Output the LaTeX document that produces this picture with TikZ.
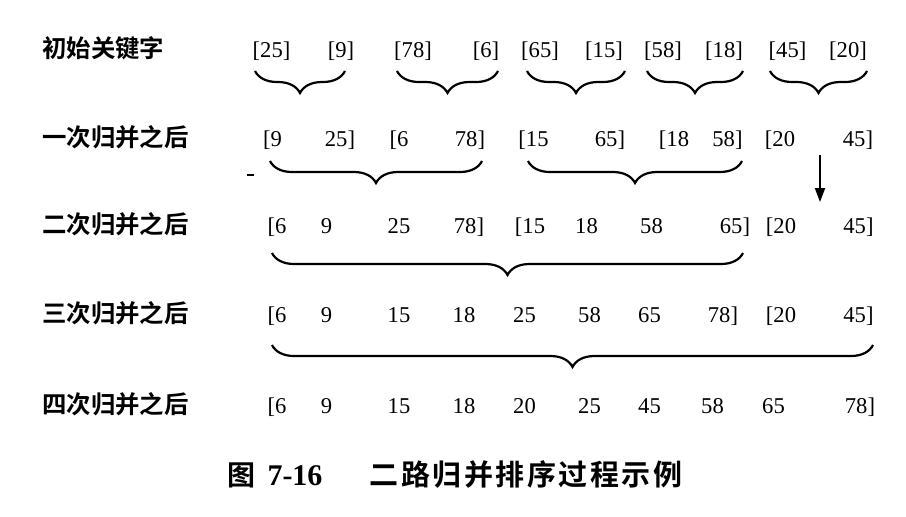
\documentclass[tikz,border=0pt]{standalone}
\usepackage{fontspec}
\setmainfont{Liberation Serif}
\newfontfamily\cjkfont{Noto Sans CJK SC}[BoldFont={Noto Sans CJK SC Bold}]
\usetikzlibrary{decorations.pathreplacing, arrows.meta}

\tikzset{
  num/.style={font=\fontsize{11.3}{13}\selectfont, inner sep=0pt, anchor=base},
  rowlabel/.style={font=\cjkfont\bfseries\fontsize{12.2}{14}\selectfont, inner sep=0pt, anchor=base west},
  mergebrace/.style={line width=1.1pt, decorate, decoration={brace, mirror, amplitude=11pt}},
}

\begin{document}
\begin{tikzpicture}[x=0.5pt, y=-0.5pt]
\useasboundingbox (0,0) rectangle (906,516);

% row labels
\foreach \y/\lbl [count=\i] in {57/初始关键字, 146/一次归并之后, 233/二次归并之后, 322/三次归并之后, 413/四次归并之后}
  \node[rowlabel] (lbl\i) at (42,\y) {\lbl};

% keys, one row per pass
\foreach \x/\k [count=\i] in {271.5/[25], 341/[9], 413/[78], 486/[6], 540/[65], 604/[15], 663/[58], 724/[18], 787.5/[45], 848/[20]}
  \node[num] (ra\i) at (\x,57) {\k};
\foreach \x/\k [count=\i] in {272.5/[9, 340/25], 399/[6, 470/78], 533.5/[15, 610/65], 674/[18, 727.5/58], 780/[20, 858/45]}
  \node[num] (rb\i) at (\x,146) {\k};
\foreach \x/\k [count=\i] in {277/[6, 326.5/9, 399/25, 469/78], 530/[15, 586.5/18, 651.5/58, 735/65], 781/[20, 858.5/45]}
  \node[num] (rc\i) at (\x,233) {\k};
\foreach \x/\k [count=\i] in {277/[6, 326.5/9, 399/15, 464/18, 524.5/25, 589.5/58, 649.5/65, 723/78], 781/[20, 858.5/45]}
  \node[num] (rd\i) at (\x,322) {\k};
\foreach \x/\k [count=\i] in {277/[6, 326.5/9, 399/15, 464/18, 524.5/20, 589.5/25, 649.5/45, 712.5/58, 773.5/65, 860/78]}
  \node[num] (re\i) at (\x,413) {\k};

% braces
\foreach \a/\b in {255/345, 397/498, 527/625, 647/743, 770/867}
  \draw[mergebrace] (\a,71) -- (\b,71);
\foreach \a/\b in {270/482, 528/742}
  \draw[mergebrace] (\a,161) -- (\b,161);
\draw[mergebrace] (272,253) -- (743,253);
\draw[mergebrace] (272,345) -- (873,345);

\draw[line width=1.2pt] (247,175) -- (254,175);

% carried-over run
\coordinate (carry1) at (820,155);
\coordinate (carry2) at (820,202);
\draw[line width=1pt, -{Triangle[length=7pt,width=5pt]}] (carry1) -- (carry2);

% caption
\node[font=\cjkfont\bfseries\fontsize{14}{16}\selectfont, inner sep=0pt, anchor=base] (figno) at (241,485) {图};
\node[font=\bfseries\fontsize{15}{17}\selectfont, inner sep=0pt, anchor=base] (fignum) at (295,485) {7-16};
\node[font=\cjkfont\bfseries\fontsize{14.5}{16}\selectfont\addfontfeature{LetterSpace=8.6}, inner sep=0pt, anchor=base] (figtitle) at (526,485) {二路归并排序过程示例};
\end{tikzpicture}
\end{document}
